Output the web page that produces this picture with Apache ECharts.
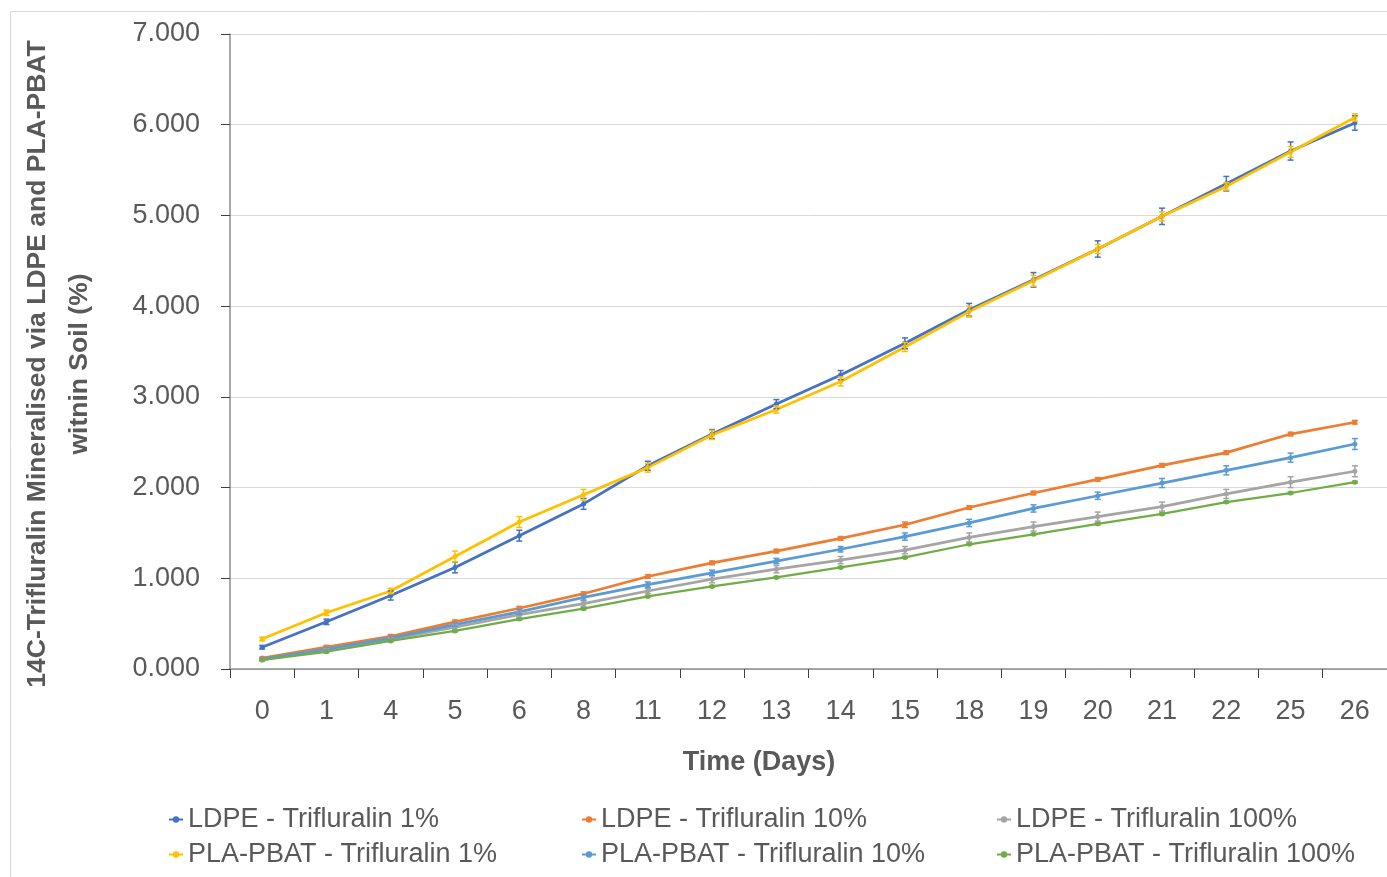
<!DOCTYPE html>
<html>
<head>
<meta charset="utf-8">
<script src="https://cdn.jsdelivr.net/npm/echarts@6/dist/echarts.min.js"></script>
<style>
  html, body { margin: 0; padding: 0; background: #fff; }
  #chart { width: 1387px; height: 877px; }
</style>
</head>
<body>
<div id="chart"></div>
<script>
// Sampling days (category axis)
const days = ['0','1','4','5','6','8','11','12','13','14','15','18','19','20','21','22','25','26'];

// Mean cumulative 14C-trifluralin mineralised (%)
const ldpe1   = [0.24, 0.52, 0.81, 1.12, 1.47, 1.82, 2.24, 2.59, 2.92, 3.24, 3.59, 3.96, 4.29, 4.63, 4.99, 5.35, 5.71, 6.02];
const ldpe10  = [0.12, 0.24, 0.36, 0.52, 0.67, 0.83, 1.02, 1.17, 1.30, 1.44, 1.59, 1.78, 1.94, 2.09, 2.245, 2.385, 2.59, 2.72];
const ldpe100 = [0.10, 0.21, 0.33, 0.46, 0.60, 0.72, 0.86, 0.99, 1.10, 1.20, 1.31, 1.45, 1.57, 1.68, 1.79, 1.93, 2.06, 2.18];
const pla1    = [0.33, 0.62, 0.86, 1.24, 1.62, 1.92, 2.22, 2.58, 2.86, 3.17, 3.55, 3.94, 4.28, 4.63, 4.99, 5.32, 5.70, 6.08];
const pla10   = [0.11, 0.22, 0.34, 0.49, 0.63, 0.79, 0.93, 1.06, 1.19, 1.32, 1.46, 1.61, 1.77, 1.91, 2.05, 2.19, 2.33, 2.48];
const pla100  = [0.10, 0.19, 0.31, 0.42, 0.55, 0.665, 0.80, 0.91, 1.01, 1.12, 1.23, 1.375, 1.485, 1.60, 1.71, 1.84, 1.94, 2.06];

// Standard error for each mean
const ldpe1Err   = [0.02, 0.03, 0.05, 0.06, 0.06, 0.06, 0.05, 0.05, 0.05, 0.05, 0.06, 0.07, 0.08, 0.09, 0.09, 0.08, 0.10, 0.08];
const ldpe10Err  = [0.01, 0.02, 0.02, 0.02, 0.02, 0.02, 0.02, 0.02, 0.02, 0.02, 0.03, 0.02, 0.02, 0.02, 0.02, 0.02, 0.02, 0.02];
const ldpe100Err = [0.01, 0.02, 0.02, 0.03, 0.03, 0.03, 0.03, 0.04, 0.04, 0.04, 0.04, 0.05, 0.05, 0.05, 0.05, 0.05, 0.06, 0.06];
const pla1Err    = [0.02, 0.03, 0.03, 0.06, 0.06, 0.06, 0.05, 0.05, 0.04, 0.05, 0.05, 0.06, 0.06, 0.05, 0.05, 0.04, 0.06, 0.04];
const pla10Err   = [0.01, 0.02, 0.02, 0.02, 0.03, 0.03, 0.03, 0.03, 0.03, 0.03, 0.04, 0.04, 0.04, 0.04, 0.05, 0.05, 0.05, 0.06];
const pla100Err  = [0.01, 0.01, 0.01, 0.01, 0.01, 0.01, 0.01, 0.01, 0.01, 0.01, 0.01, 0.01, 0.01, 0.01, 0.01, 0.01, 0.01, 0.01];

const seriesDefs = [
  { name: 'LDPE - Trifluralin 1%',      data: ldpe1,   err: ldpe1Err,   color: '#4472C4', width: 2.75 },
  { name: 'LDPE - Trifluralin 10%',     data: ldpe10,  err: ldpe10Err,  color: '#ED7D31', width: 2.75 },
  { name: 'LDPE - Trifluralin 100%',    data: ldpe100, err: ldpe100Err, color: '#A5A5A5', width: 2.75 },
  { name: 'PLA-PBAT - Trifluralin 1%',  data: pla1,    err: pla1Err,    color: '#FFC000', width: 2.75 },
  { name: 'PLA-PBAT - Trifluralin 10%', data: pla10,   err: pla10Err,   color: '#5B9BD5', width: 2.75 },
  { name: 'PLA-PBAT - Trifluralin 100%',data: pla100,  err: pla100Err,  color: '#70AD47', width: 2.25 }
];

const FONT = '"Liberation Sans", "DejaVu Sans", sans-serif';
const TXT = '#595959';
const FS = 27;

const chart = echarts.init(document.getElementById('chart'), null, { renderer: 'canvas' });

const series = [];
seriesDefs.forEach(d => {
  series.push({
    name: d.name,
    type: 'line',
    data: d.data,
    symbol: 'circle',
    symbolSize: 5,
    lineStyle: { color: d.color, width: d.width },
    itemStyle: { color: d.color },
    z: 3
  });
  // Vertical error bars with small caps
  series.push({
    name: d.name,
    type: 'custom',
    z: 4,
    data: d.data.map((v, i) => [i, v - d.err[i], v + d.err[i]]),
    renderItem: function (params, api) {
      const x = api.value(0);
      const lo = api.coord([x, api.value(1)]);
      const hi = api.coord([x, api.value(2)]);
      const cap = 3;
      const style = { stroke: d.color, lineWidth: 1.5, fill: null };
      return {
        type: 'group',
        children: [
          { type: 'line', shape: { x1: lo[0], y1: lo[1], x2: hi[0], y2: hi[1] }, style: style },
          { type: 'line', shape: { x1: lo[0] - cap, y1: lo[1], x2: lo[0] + cap, y2: lo[1] }, style: style },
          { type: 'line', shape: { x1: hi[0] - cap, y1: hi[1], x2: hi[0] + cap, y2: hi[1] }, style: style }
        ]
      };
    }
  });
});

const legendText = { color: TXT, fontSize: FS, fontFamily: FONT };
function legendCol(left, names) {
  return {
    orient: 'vertical',
    left: left,
    top: 801,
    itemGap: 8,
    itemWidth: 14,
    itemHeight: 8,
    textStyle: legendText,
    data: names,
    selectedMode: false
  };
}

chart.setOption({
  animation: false,
  backgroundColor: '#ffffff',
  grid: { left: 230, right: 0, top: 34, bottom: 208, containLabel: false },
  legend: [
    legendCol(163, [seriesDefs[0].name, seriesDefs[3].name]),
    legendCol(576, [seriesDefs[1].name, seriesDefs[4].name]),
    legendCol(991, [seriesDefs[2].name, seriesDefs[5].name])
  ],
  xAxis: {
    type: 'category',
    data: days,
    boundaryGap: true,
    axisLine: { lineStyle: { color: '#8C8C8C', width: 1.5 } },
    axisTick: { show: true, length: 9, lineStyle: { color: '#404040' } },
    axisLabel: { color: TXT, fontSize: FS, fontFamily: FONT, margin: 29 },
    splitLine: { show: false }
  },
  yAxis: {
    type: 'value',
    min: 0,
    max: 7,
    interval: 1,
    axisLine: { show: true, lineStyle: { color: '#8C8C8C', width: 1.5 } },
    axisTick: { show: true, length: 9, lineStyle: { color: '#404040' } },
    axisLabel: { color: TXT, fontSize: FS, fontFamily: FONT, margin: 30, formatter: v => v.toFixed(3) },
    splitLine: { lineStyle: { color: '#D9D9D9', width: 1 } }
  },
  graphic: [
    {
      type: 'rect',
      shape: { x: 10.5, y: 11.5, width: 1400, height: 900 },
      style: { fill: null, stroke: '#D9D9D9', lineWidth: 1 },
      silent: true, z: -10
    },
    {
      type: 'text',
      x: 59, y: 364,
      rotation: Math.PI / 2,
      style: {
        text: '14C-Trifluralin Mineralised via LDPE and PLA-PBAT\nwitnin Soil (%)',
        fill: TXT,
        font: 'bold 26.5px ' + FONT,
        textAlign: 'center',
        textVerticalAlign: 'middle',
        lineHeight: 42
      }
    },
    {
      type: 'text',
      x: 759, y: 763,
      style: {
        text: 'Time (Days)',
        fill: TXT,
        font: 'bold 27px ' + FONT,
        textAlign: 'center',
        textVerticalAlign: 'middle'
      }
    }
  ],
  series: series
});
</script>
</body>
</html>
